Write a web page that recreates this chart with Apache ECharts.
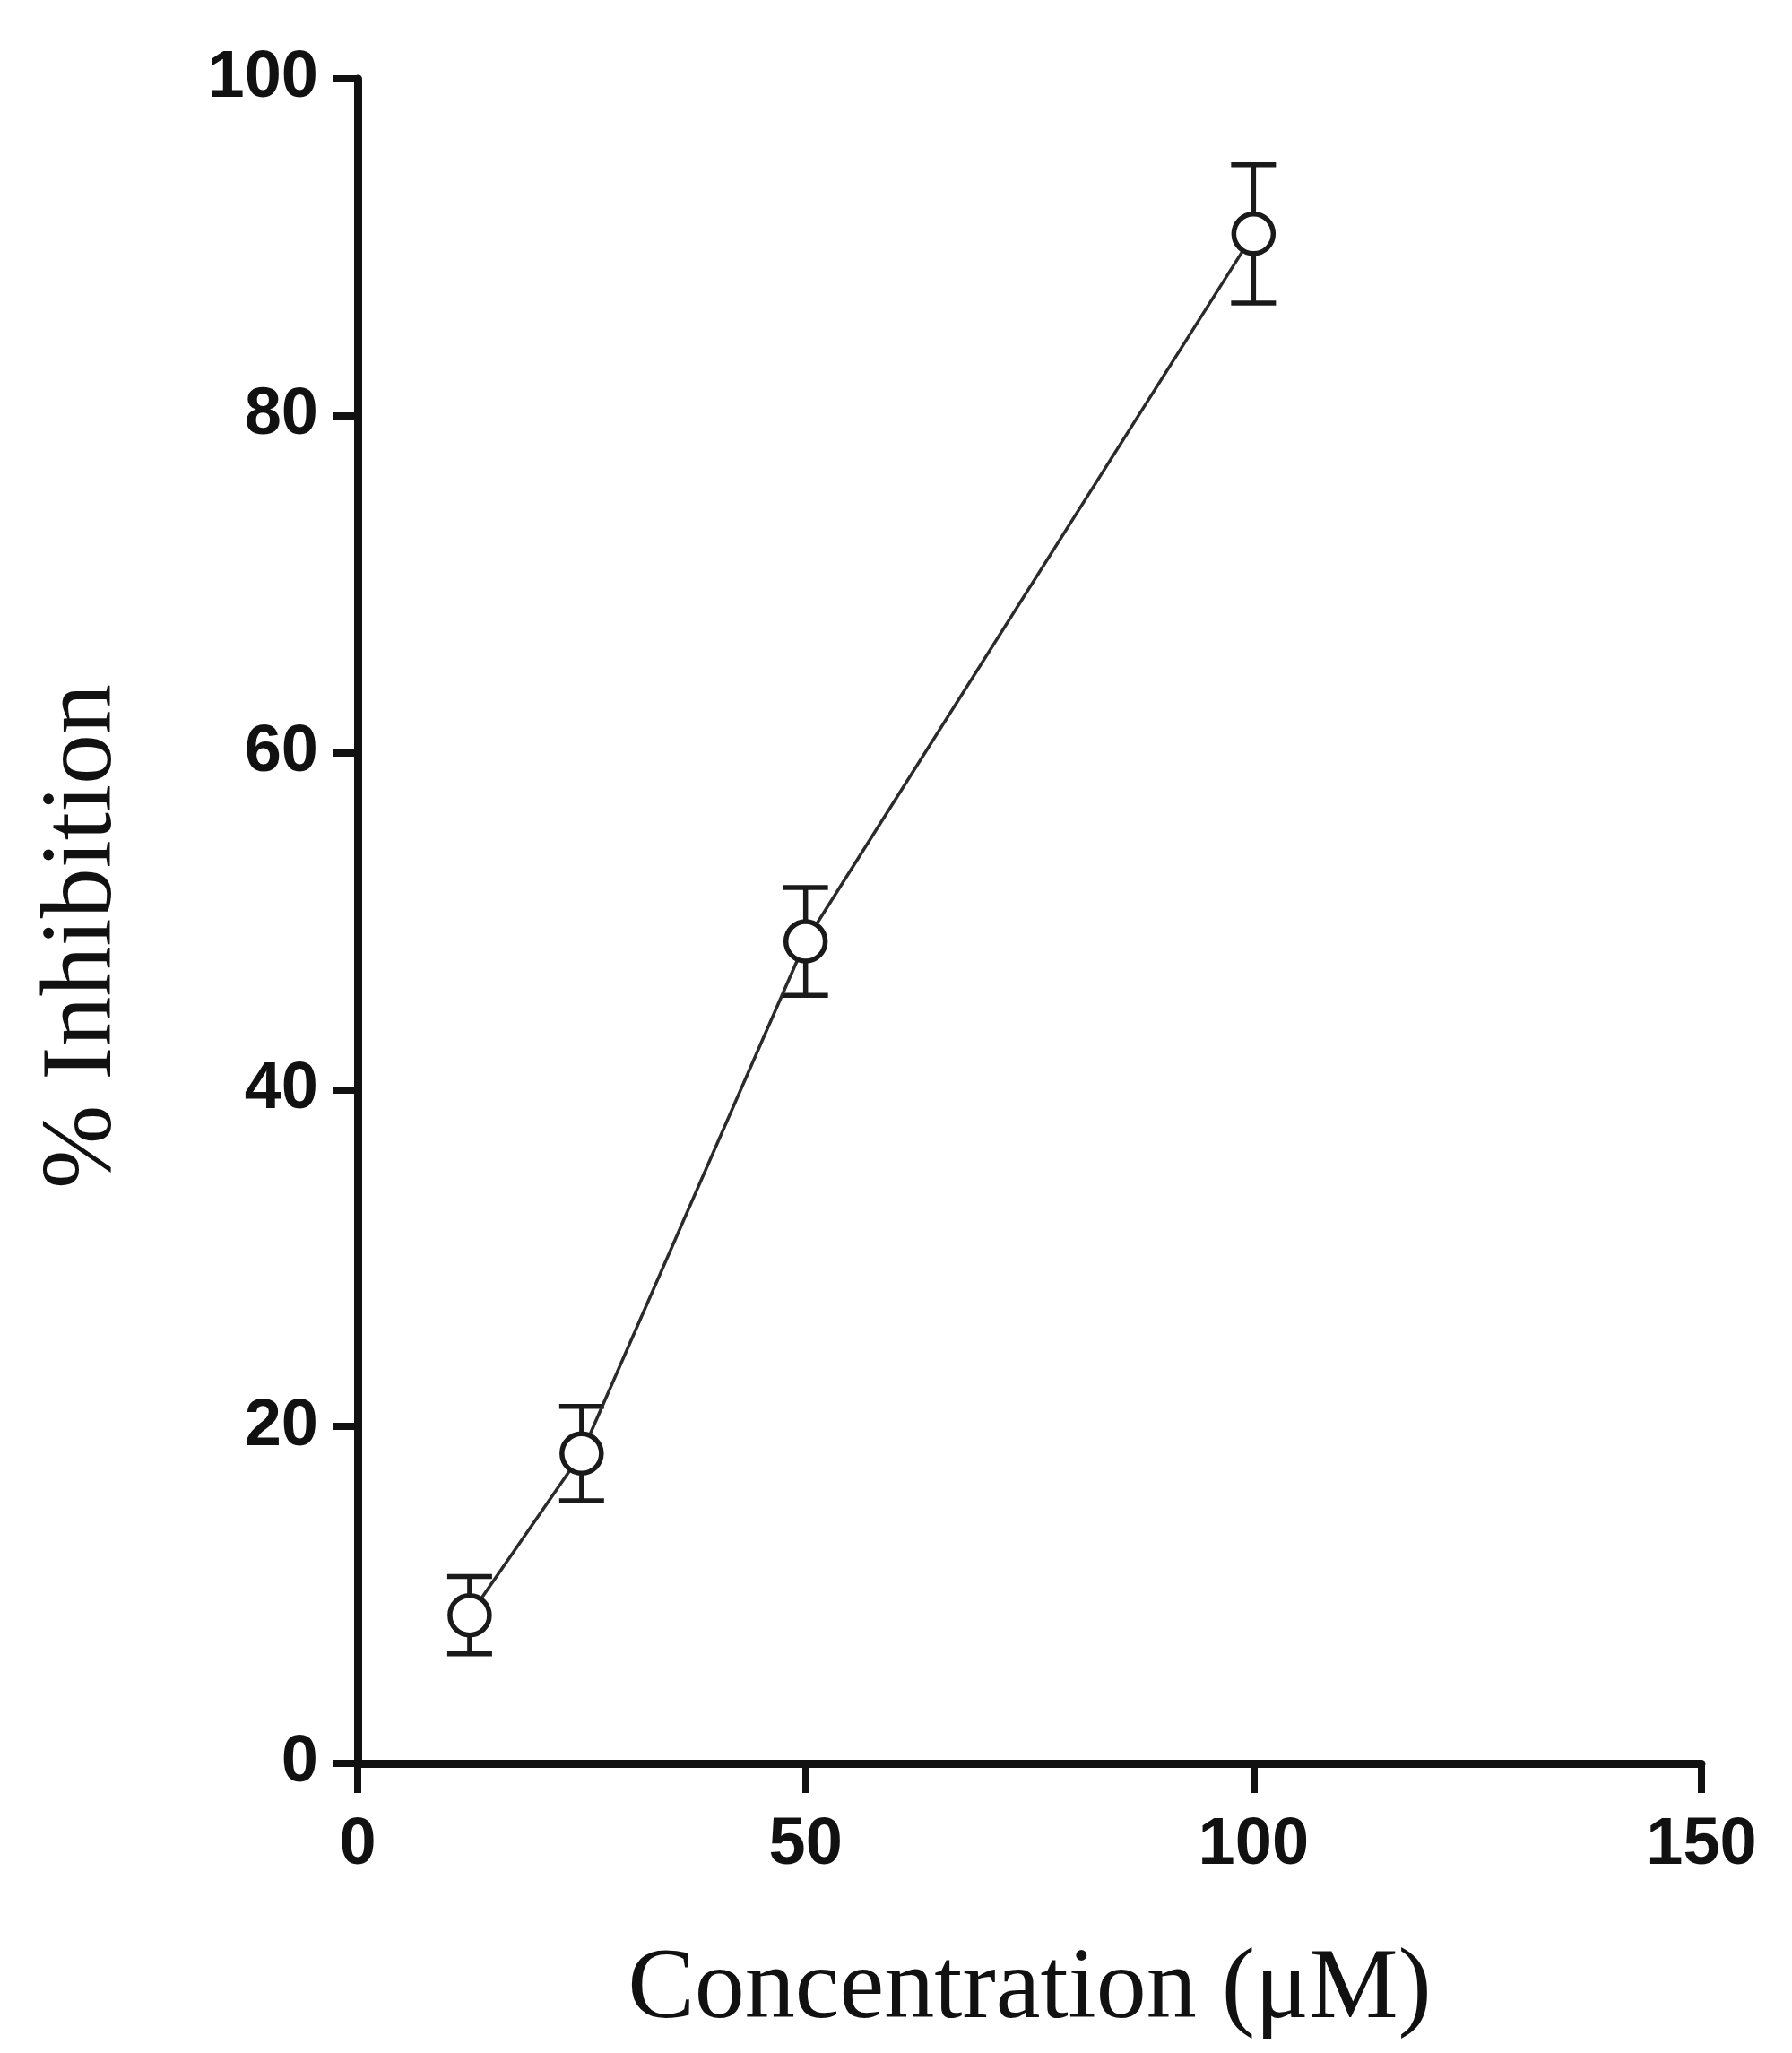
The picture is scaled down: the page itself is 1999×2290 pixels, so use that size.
<!DOCTYPE html>
<html>
<head lang="en">
    <meta charset="UTF-8">
    <title>% Inhibition vs Concentration</title>
    <style>
        html, body { margin: 0; padding: 0; background: #fff; }
        #chart { width: 1999px; height: 2290px; }
    </style>
</head>
<body>
    <div id="chart"></div>
    <script src="https://cdn.jsdelivr.net/npm/echarts@6.0.0/dist/echarts.min.js"></script>
    <script>
    // concentration (uM), mean % inhibition and its error
    var concentration = [12.5, 25, 50, 100];
    var inhibition = [8.8, 18.4, 48.8, 90.8];
    var errorSize = [2.3, 2.8, 3.2, 4.1];

    var xTicks = [0, 50, 100, 150];
    var yTicks = [0, 20, 40, 60, 80, 100];

    var lineData = [], errData = [];
    for (var i = 0; i < concentration.length; i++) {
        lineData.push([concentration[i], inhibition[i]]);
        errData.push([concentration[i], inhibition[i] - errorSize[i], inhibition[i] + errorSize[i]]);
    }

    var chart = echarts.init(document.getElementById('chart'));
    var axisColor = '#111';

    // 误差棒
    function renderErr(params, api) {
        var x = api.value(0);
        var top = api.coord([x, api.value(2)]);
        var bot = api.coord([x, api.value(1)]);
        var half = 25;
        var st = { stroke: '#1a1a1a', lineWidth: 5.5 };
        return {
            type: 'group',
            children: [
                { type: 'line', shape: { x1: top[0], y1: top[1], x2: bot[0], y2: bot[1] }, style: st },
                { type: 'line', shape: { x1: top[0] - half, y1: top[1], x2: top[0] + half, y2: top[1] }, style: st },
                { type: 'line', shape: { x1: bot[0] - half, y1: bot[1], x2: bot[0] + half, y2: bot[1] }, style: st }
            ]
        };
    }

    var option = {
        backgroundColor: '#fff',
        animation: false,
        grid: { left: 399, right: 101, top: 88, bottom: 323, containLabel: false },
        xAxis: {
            type: 'value',
            min: 0, max: 150, interval: 50,
            name: 'Concentration (\u03bcM)',
            nameLocation: 'middle',
            nameGap: 198,
            nameTextStyle: { fontFamily: 'Liberation Serif', fontSize: 112, color: '#111' },
            splitLine: { show: false },
            axisLine: { lineStyle: { color: axisColor, width: 9 } },
            axisTick: { length: 33, lineStyle: { color: axisColor, width: 8 } },
            axisLabel: {
                margin: 55,
                fontFamily: 'Liberation Sans', fontWeight: 'bold', fontSize: 74, color: '#111',
                formatter: function (v) { return xTicks.indexOf(v) >= 0 ? String(v) : ''; }
            }
        },
        yAxis: {
            type: 'value',
            min: 0, max: 100, interval: 20,
            name: '% Inhibition',
            nameLocation: 'middle',
            nameGap: 249,
            nameTextStyle: { fontFamily: 'Liberation Serif', fontSize: 112, color: '#111', padding: [0, 34, 0, 0] },
            splitLine: { show: false },
            axisLine: { show: true, lineStyle: { color: axisColor, width: 9 } },
            axisTick: { show: true, length: 28, lineStyle: { color: axisColor, width: 8 } },
            axisLabel: {
                margin: 44,
                fontFamily: 'Liberation Sans', fontWeight: 'bold', fontSize: 74, color: '#111',
                formatter: function (v) { return yTicks.indexOf(v) >= 0 ? String(v) : ''; }
            }
        },
        series: [
            {
                type: 'custom',
                renderItem: renderErr,
                data: errData,
                z: 2
            },
            {
                type: 'line',
                data: lineData,
                symbol: 'circle',
                symbolSize: 44,
                lineStyle: { color: '#2b2b2b', width: 3.5 },
                itemStyle: { color: '#fff', borderColor: '#1a1a1a', borderWidth: 5.5 },
                z: 3
            }
        ]
    };
    chart.setOption(option);
    </script>
</body>
</html>
